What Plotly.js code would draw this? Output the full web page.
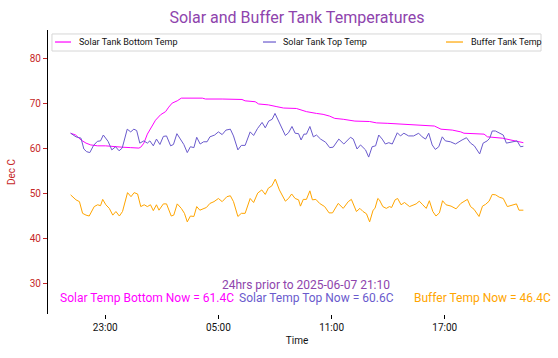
<!DOCTYPE html>
<html>
<head>
<meta charset="utf-8">
<script src="https://cdn.plot.ly/plotly-3.0.1.min.js"></script>
<style>html,body{margin:0;padding:0;background:#fff;}#chart{width:558px;height:358px;}</style>
</head>
<body>
<div id="chart"></div>
<script>
// Period: 24 hours prior to 2025-06-07 21:10 ; x data are minutes after 2025-06-06 21:10
const startTime = Date.UTC(2025, 5, 6, 21, 10);

const bottomMinutes = [0,16,33,49,64,86,111,134,164,191,217,223,233,244,254,270,286,302,312,323,339,352,419,429,482,545,555,587,598,629,656,677,718,734,750,782,803,824,840,867,904,951,973,1009,1051,1157,1178,1214,1241,1251,1315,1326,1373,1405,1431,1440];
const bottomValues = [63.5,63.1,62.0,61.3,60.9,60.7,60.7,60.5,60.4,60.3,60.2,60.4,61.3,63.3,64.6,66.4,67.6,68.3,69.3,70.2,70.7,71.3,71.3,71.1,71.1,71.0,70.7,70.5,70.0,69.8,69.4,69.1,69.0,68.7,68.3,67.9,67.7,67.3,66.8,66.6,66.2,66.1,65.8,65.7,65.5,65.1,64.4,64.2,63.8,63.5,63.3,62.7,62.4,62.0,61.6,61.4];

const topMinutes = [0,17,33,42,51,61,73,85,95,104,119,131,143,154,164,180,191,201,210,220,233,244,252,263,273,284,295,305,318,327,338,350,360,371,381,392,401,412,423,434,443,458,470,482,494,508,518,532,543,555,571,582,594,609,619,630,641,650,664,683,693,704,714,725,733,742,750,761,772,782,795,811,824,835,853,869,890,899,911,922,938,948,959,970,980,991,1001,1012,1023,1039,1049,1060,1075,1091,1107,1118,1129,1139,1150,1160,1171,1182,1192,1208,1224,1234,1245,1259,1272,1284,1301,1312,1325,1333,1341,1351,1362,1376,1386,1404,1420,1431,1440];
const topValues = [63.5,62.7,62.4,60.0,59.4,59.2,60.8,61.7,61.8,63.1,61.7,59.8,60.5,59.6,60.2,64.4,63.8,64.4,64.1,61.3,61.8,61.3,61.8,60.7,62.2,61.0,62.8,62.9,60.7,61.0,63.4,62.2,61.0,59.2,60.5,60.3,62.6,61.1,61.6,61.6,62.7,63.1,63.8,63.2,64.2,64.4,62.9,59.8,60.8,60.8,63.8,63.0,64.5,65.9,64.7,66.2,66.6,67.9,65.7,63.0,63.6,65.0,63.5,63.4,62.0,63.3,63.3,65.0,62.7,63.1,62.2,61.5,60.3,60.4,62.2,61.1,62.6,62.2,60.0,60.9,59.8,58.2,60.5,60.7,63.1,62.2,61.1,61.4,61.1,63.6,62.9,63.5,62.9,62.9,63.5,62.7,62.2,63.5,60.9,59.9,60.5,62.7,61.8,61.6,61.1,61.6,62.0,62.5,61.3,60.7,58.9,61.3,61.8,62.4,64.0,64.0,63.6,63.1,61.3,61.6,61.8,60.5,60.6];

const bufferMinutes = [0,17,28,38,49,59,75,86,95,102,112,123,134,144,155,165,181,192,202,213,223,234,244,254,263,273,281,295,305,320,328,339,352,362,371,381,392,401,411,422,432,443,456,470,482,497,508,518,532,543,555,571,582,595,608,619,629,640,651,664,683,693,703,714,725,731,740,750,761,769,780,792,808,822,833,851,867,883,893,909,920,930,941,951,962,968,977,982,993,1004,1014,1021,1032,1040,1051,1062,1078,1099,1109,1120,1131,1141,1152,1162,1173,1183,1194,1210,1226,1241,1251,1262,1272,1283,1299,1310,1320,1331,1341,1352,1363,1376,1389,1405,1418,1426,1440];
const bufferValues = [49.8,48.7,48.3,45.7,45.3,45.1,47.2,47.6,47.4,48.8,47.6,46.8,45.3,46.1,45.1,46.1,50.3,49.4,50.3,50.0,47.2,47.6,47.2,47.6,46.3,47.6,46.4,47.8,47.8,45.1,45.3,47.8,46.8,45.7,43.8,45.1,45.0,47.2,46.4,46.8,47.0,47.9,48.3,49.0,48.3,49.4,49.6,48.3,45.0,45.7,45.7,49.0,48.1,50.2,50.9,49.9,51.3,51.8,53.3,50.9,48.4,49.0,50.0,49.0,48.7,47.3,48.8,48.8,50.7,48.7,48.8,47.9,47.2,45.8,45.8,47.9,46.8,48.3,48.8,46.1,46.8,46.1,45.6,43.8,46.4,46.8,49.0,48.7,47.2,46.8,47.2,47.0,48.7,49.0,47.6,48.1,47.2,47.8,48.4,47.6,46.8,48.5,46.1,45.1,45.8,48.5,47.6,47.3,46.7,47.9,48.3,48.8,47.2,46.6,45.0,47.3,47.7,48.4,49.9,49.8,49.3,49.0,47.2,47.6,47.8,46.4,46.4];

const seriesNames = ["Solar Tank Bottom Temp", "Solar Tank Top Temp", "Buffer Tank Temp"];
const seriesColors = ["#ff00ff", "#6a5acd", "#ffa500"];
const nowLabels = ["Solar Temp Bottom Now = 61.4C", "Solar Temp Top Now = 60.6C", "Buffer Temp Now = 46.4C"];
const subtitle = "24hrs prior to 2025-06-07 21:10";
const tickVals = ["2025-06-06 23:00", "2025-06-07 05:00", "2025-06-07 11:00", "2025-06-07 17:00"];
const tickLabels = ["23:00", "05:00", "11:00", "17:00"];
const xRange = ["2025-06-06 19:58", "2025-06-07 22:22"];
const yRange = [23.33, 86.44];

function toStr(min) {
  return new Date(startTime + min * 60000).toISOString().slice(0, 16).replace('T', ' ');
}

const FONT = 'Roboto, "DejaVu Sans", sans-serif';
const series = [[bottomMinutes, bottomValues], [topMinutes, topValues], [bufferMinutes, bufferValues]];
const traces = series.map((s, i) => ({
  type: 'scatter', mode: 'lines', name: seriesNames[i],
  x: s[0].map(toStr), y: s[1],
  line: {color: seriesColors[i], width: 1},
  showlegend: false, hoverinfo: 'skip'
}));

// legend drawn in paper coordinates (box + handle lines + labels)
const legLineX = [[0.0141, 0.0462], [0.4317, 0.4578], [0.7992, 0.8333]];
const legTextX = [0.0582, 0.4679, 0.8454];
const legY = 0.9577;
const shapes = [{type: 'rect', xref: 'paper', yref: 'paper', x0: 0.008, x1: 0.99, y0: 0.926, y1: 0.986,
  line: {color: '#d6d6d6', width: 1}, fillcolor: 'rgba(255,255,255,0.8)'}];
const annotations = [];
seriesNames.forEach((n, i) => {
  shapes.push({type: 'line', xref: 'paper', yref: 'paper', x0: legLineX[i][0], x1: legLineX[i][1], y0: legY, y1: legY,
    line: {color: seriesColors[i], width: 1.2}});
  annotations.push({xref: 'paper', yref: 'paper', x: legTextX[i], y: legY, xanchor: 'left', yanchor: 'middle',
    text: n, showarrow: false, font: {family: FONT, size: 9, color: '#111'}});
});
annotations.push({xref: 'paper', yref: 'paper', x: 0.518, y: 0.1032, xanchor: 'center', yanchor: 'middle',
  text: subtitle, showarrow: false, font: {family: FONT, size: 12, color: '#8e44ad'}});
const nowX = [0.0207, 0.3801, 0.7303];
nowLabels.forEach((t, i) => {
  annotations.push({xref: 'paper', yref: 'paper', x: nowX[i], y: 0.0553, xanchor: 'left', yanchor: 'middle',
    text: t, showarrow: false, font: {family: FONT, size: 12, color: seriesColors[i]}});
});

const layout = {
  width: 558, height: 358,
  margin: {l: 48, r: 12, t: 30, b: 44},
  paper_bgcolor: '#fff', plot_bgcolor: '#fff',
  font: {family: FONT},
  title: {text: 'Solar and Buffer Tank Temperatures', x: 0.5, xref: 'paper', y: 0.9525, yref: 'container',
    xanchor: 'center', yanchor: 'middle', font: {family: FONT, size: 16, color: '#8e44ad'}},
  xaxis: {type: 'date', range: xRange, tickmode: 'array', tickvals: tickVals, ticktext: tickLabels,
    showgrid: false, zeroline: false, showline: false, ticks: 'outside', ticklen: 4, tickcolor: '#000',
    tickfont: {family: FONT, size: 10, color: '#111'},
    title: {text: 'Time', font: {family: FONT, size: 10, color: '#111'}, standoff: 4}},
  yaxis: {range: yRange, tickmode: 'linear', tick0: 30, dtick: 10,
    showgrid: false, zeroline: false, showline: true, linecolor: '#000', linewidth: 1,
    ticks: 'outside', ticklen: 4, tickcolor: '#c62828',
    tickfont: {family: FONT, size: 10, color: '#c62828'},
    title: {text: 'Dec C', font: {family: FONT, size: 10, color: '#c62828'}, standoff: 12}},
  shapes: shapes, annotations: annotations, showlegend: false
};

Plotly.newPlot('chart', traces, layout, {displayModeBar: false, staticPlot: true});
</script>
</body>
</html>
